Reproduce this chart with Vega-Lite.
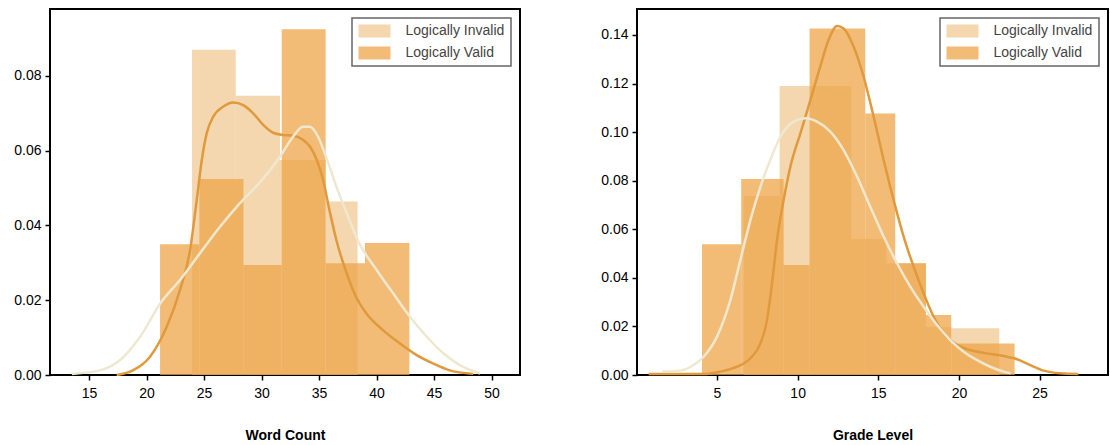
{
  "$schema": "https://vega.github.io/schema/vega-lite/v6.json",
  "padding": {"left": 12, "top": 8, "right": 0, "bottom": 0},
  "spacing": 78,
  "datasets": {
    "wc_bars": [
      {"series": "Logically Invalid", "x0": 23.95, "x1": 27.75, "density": 0.087},
      {"series": "Logically Invalid", "x0": 27.75, "x1": 31.6, "density": 0.0747},
      {"series": "Logically Invalid", "x0": 31.6, "x1": 35.57, "density": 0.0575},
      {"series": "Logically Invalid", "x0": 35.57, "x1": 38.35, "density": 0.0464},
      {"series": "Logically Valid", "x0": 21.17, "x1": 24.59, "density": 0.035},
      {"series": "Logically Valid", "x0": 24.59, "x1": 28.42, "density": 0.0524},
      {"series": "Logically Valid", "x0": 28.42, "x1": 31.75, "density": 0.0294},
      {"series": "Logically Valid", "x0": 31.75, "x1": 35.57, "density": 0.0925},
      {"series": "Logically Valid", "x0": 35.57, "x1": 38.99, "density": 0.0299},
      {"series": "Logically Valid", "x0": 38.99, "x1": 42.85, "density": 0.0353}
    ],
    "wc_kde": [
      {"curve": "dark", "x": 17.4, "density": 0.0},
      {"curve": "dark", "x": 18.85, "density": 0.0013},
      {"curve": "dark", "x": 20.3, "density": 0.0049},
      {"curve": "dark", "x": 21.75, "density": 0.0129},
      {"curve": "dark", "x": 22.9, "density": 0.0227},
      {"curve": "dark", "x": 23.78, "density": 0.0334},
      {"curve": "dark", "x": 24.36, "density": 0.0468},
      {"curve": "dark", "x": 24.8, "density": 0.0575},
      {"curve": "dark", "x": 25.23, "density": 0.0647},
      {"curve": "dark", "x": 25.8, "density": 0.0691},
      {"curve": "dark", "x": 26.67, "density": 0.0718},
      {"curve": "dark", "x": 27.54, "density": 0.0729},
      {"curve": "dark", "x": 28.4, "density": 0.0722},
      {"curve": "dark", "x": 29.27, "density": 0.07},
      {"curve": "dark", "x": 30.14, "density": 0.0669},
      {"curve": "dark", "x": 31.0, "density": 0.0648},
      {"curve": "dark", "x": 31.88, "density": 0.0642},
      {"curve": "dark", "x": 32.75, "density": 0.064},
      {"curve": "dark", "x": 33.6, "density": 0.0629},
      {"curve": "dark", "x": 34.2, "density": 0.0611},
      {"curve": "dark", "x": 34.8, "density": 0.0575},
      {"curve": "dark", "x": 35.35, "density": 0.0522},
      {"curve": "dark", "x": 35.9, "density": 0.0441},
      {"curve": "dark", "x": 36.5, "density": 0.0361},
      {"curve": "dark", "x": 37.4, "density": 0.0272},
      {"curve": "dark", "x": 38.2, "density": 0.021},
      {"curve": "dark", "x": 39.1, "density": 0.0165},
      {"curve": "dark", "x": 40.55, "density": 0.012},
      {"curve": "dark", "x": 42.0, "density": 0.0085},
      {"curve": "dark", "x": 43.45, "density": 0.0054},
      {"curve": "dark", "x": 44.9, "density": 0.0031},
      {"curve": "dark", "x": 46.3, "density": 0.0013},
      {"curve": "dark", "x": 48.4, "density": 0.0003},
      {"curve": "cream", "x": 13.5, "density": 0.0003},
      {"curve": "cream", "x": 16.0, "density": 0.0013},
      {"curve": "cream", "x": 17.7, "density": 0.004},
      {"curve": "cream", "x": 19.45, "density": 0.0103},
      {"curve": "cream", "x": 21.2, "density": 0.0192},
      {"curve": "cream", "x": 22.9, "density": 0.0254},
      {"curve": "cream", "x": 24.65, "density": 0.0326},
      {"curve": "cream", "x": 26.4, "density": 0.0397},
      {"curve": "cream", "x": 28.1, "density": 0.0459},
      {"curve": "cream", "x": 29.9, "density": 0.0517},
      {"curve": "cream", "x": 31.6, "density": 0.0584},
      {"curve": "cream", "x": 32.75, "density": 0.0638},
      {"curve": "cream", "x": 33.6, "density": 0.0664},
      {"curve": "cream", "x": 34.2, "density": 0.0664},
      {"curve": "cream", "x": 34.9, "density": 0.0638},
      {"curve": "cream", "x": 35.6, "density": 0.0584},
      {"curve": "cream", "x": 36.5, "density": 0.0504},
      {"curve": "cream", "x": 37.4, "density": 0.0433},
      {"curve": "cream", "x": 38.5, "density": 0.0352},
      {"curve": "cream", "x": 40.0, "density": 0.0281},
      {"curve": "cream", "x": 41.45, "density": 0.0218},
      {"curve": "cream", "x": 42.9, "density": 0.0156},
      {"curve": "cream", "x": 44.35, "density": 0.0103},
      {"curve": "cream", "x": 45.8, "density": 0.0058},
      {"curve": "cream", "x": 47.2, "density": 0.0027},
      {"curve": "cream", "x": 49.0, "density": 0.0004}
    ],
    "gl_bars": [
      {"series": "Logically Invalid", "x0": 6.65, "x1": 8.88, "density": 0.0737},
      {"series": "Logically Invalid", "x0": 8.88, "x1": 11.1, "density": 0.119},
      {"series": "Logically Invalid", "x0": 11.1, "x1": 13.33, "density": 0.119},
      {"series": "Logically Invalid", "x0": 13.33, "x1": 15.5, "density": 0.0561},
      {"series": "Logically Invalid", "x0": 15.5, "x1": 17.95, "density": 0.046},
      {"series": "Logically Invalid", "x0": 17.95, "x1": 19.52, "density": 0.0199},
      {"series": "Logically Invalid", "x0": 19.52, "x1": 22.5, "density": 0.0192},
      {"series": "Logically Valid", "x0": 4.07, "x1": 6.5, "density": 0.0538},
      {"series": "Logically Valid", "x0": 6.5, "x1": 9.13, "density": 0.0807},
      {"series": "Logically Valid", "x0": 9.13, "x1": 10.74, "density": 0.0453},
      {"series": "Logically Valid", "x0": 10.74, "x1": 14.19, "density": 0.1427},
      {"series": "Logically Valid", "x0": 14.19, "x1": 16.05, "density": 0.1077},
      {"series": "Logically Valid", "x0": 16.05, "x1": 17.95, "density": 0.046},
      {"series": "Logically Valid", "x0": 17.95, "x1": 19.52, "density": 0.0247},
      {"series": "Logically Valid", "x0": 19.52, "x1": 23.45, "density": 0.013}
    ],
    "gl_kde": [
      {"curve": "dark", "x": 0.76, "density": 0.0004},
      {"curve": "dark", "x": 4.17, "density": 0.0004},
      {"curve": "dark", "x": 5.2, "density": 0.0014},
      {"curve": "dark", "x": 6.24, "density": 0.0034},
      {"curve": "dark", "x": 7.07, "density": 0.0069},
      {"curve": "dark", "x": 7.69, "density": 0.013},
      {"curve": "dark", "x": 8.1, "density": 0.0226},
      {"curve": "dark", "x": 8.41, "density": 0.0377},
      {"curve": "dark", "x": 8.72, "density": 0.0556},
      {"curve": "dark", "x": 9.13, "density": 0.072},
      {"curve": "dark", "x": 9.55, "density": 0.0858},
      {"curve": "dark", "x": 10.17, "density": 0.0995},
      {"curve": "dark", "x": 10.79, "density": 0.1132},
      {"curve": "dark", "x": 11.4, "density": 0.127},
      {"curve": "dark", "x": 11.92, "density": 0.138},
      {"curve": "dark", "x": 12.44, "density": 0.1437},
      {"curve": "dark", "x": 12.85, "density": 0.1427},
      {"curve": "dark", "x": 13.47, "density": 0.1352},
      {"curve": "dark", "x": 14.09, "density": 0.1228},
      {"curve": "dark", "x": 14.71, "density": 0.1064},
      {"curve": "dark", "x": 15.33, "density": 0.0885},
      {"curve": "dark", "x": 15.95, "density": 0.072},
      {"curve": "dark", "x": 16.57, "density": 0.057},
      {"curve": "dark", "x": 17.19, "density": 0.0446},
      {"curve": "dark", "x": 17.81, "density": 0.0336},
      {"curve": "dark", "x": 18.43, "density": 0.024},
      {"curve": "dark", "x": 19.05, "density": 0.0172},
      {"curve": "dark", "x": 19.88, "density": 0.0124},
      {"curve": "dark", "x": 20.7, "density": 0.0103},
      {"curve": "dark", "x": 21.74, "density": 0.0089},
      {"curve": "dark", "x": 22.77, "density": 0.0078},
      {"curve": "dark", "x": 23.6, "density": 0.0065},
      {"curve": "dark", "x": 24.42, "density": 0.0041},
      {"curve": "dark", "x": 25.25, "density": 0.0018},
      {"curve": "dark", "x": 26.28, "density": 0.0007},
      {"curve": "dark", "x": 27.4, "density": 0.0004},
      {"curve": "cream", "x": 1.6, "density": 0.0014},
      {"curve": "cream", "x": 2.73, "density": 0.0018},
      {"curve": "cream", "x": 3.55, "density": 0.0041},
      {"curve": "cream", "x": 4.17, "density": 0.0075},
      {"curve": "cream", "x": 5.0, "density": 0.0158},
      {"curve": "cream", "x": 5.83, "density": 0.0309},
      {"curve": "cream", "x": 6.45, "density": 0.0474},
      {"curve": "cream", "x": 7.07, "density": 0.0638},
      {"curve": "cream", "x": 7.69, "density": 0.0775},
      {"curve": "cream", "x": 8.3, "density": 0.0885},
      {"curve": "cream", "x": 8.93, "density": 0.0981},
      {"curve": "cream", "x": 9.75, "density": 0.1043},
      {"curve": "cream", "x": 10.48, "density": 0.1057},
      {"curve": "cream", "x": 11.2, "density": 0.1043},
      {"curve": "cream", "x": 12.02, "density": 0.1002},
      {"curve": "cream", "x": 12.85, "density": 0.0926},
      {"curve": "cream", "x": 13.68, "density": 0.0817},
      {"curve": "cream", "x": 14.5, "density": 0.0693},
      {"curve": "cream", "x": 15.33, "density": 0.057},
      {"curve": "cream", "x": 16.16, "density": 0.046},
      {"curve": "cream", "x": 16.98, "density": 0.0364},
      {"curve": "cream", "x": 17.81, "density": 0.0281},
      {"curve": "cream", "x": 18.64, "density": 0.0206},
      {"curve": "cream", "x": 19.46, "density": 0.0144},
      {"curve": "cream", "x": 20.29, "density": 0.0096},
      {"curve": "cream", "x": 21.1, "density": 0.0062},
      {"curve": "cream", "x": 21.94, "density": 0.0034},
      {"curve": "cream", "x": 22.77, "density": 0.0014},
      {"curve": "cream", "x": 23.2, "density": 0.0007}
    ]
  },
  "hconcat": [
    {
      "width": 470,
      "height": 366,
      "layer": [
        {
          "data": {"name": "wc_bars"},
          "mark": {"type": "rect"},
          "encoding": {
            "x": {"field": "x0", "type": "quantitative", "scale": {"domain": [11.6, 52.47], "nice": false, "zero": false},
                  "axis": {"title": "Word Count", "values": [15, 20, 25, 30, 35, 40, 45, 50], "format": "d"}},
            "x2": {"field": "x1"},
            "y": {"field": "density", "type": "quantitative", "scale": {"domain": [0, 0.0979], "nice": false},
                  "axis": {"title": null, "values": [0, 0.02, 0.04, 0.06, 0.08], "format": ".2f"}},
            "y2": {"datum": 0},
            "color": {"field": "series", "type": "nominal",
                      "scale": {"domain": ["Logically Invalid", "Logically Valid"], "range": ["#EEC080", "#EDA548"]},
                      "legend": {"title": null, "orient": "top-right", "offset": 9}},
            "opacity": {"field": "series", "type": "nominal",
                        "scale": {"domain": ["Logically Invalid", "Logically Valid"], "range": [0.63, 0.74]},
                        "legend": null}
          }
        },
        {
          "data": {"name": "wc_kde"},
          "mark": {"type": "line", "interpolate": "monotone", "strokeWidth": 2.5},
          "encoding": {
            "x": {"field": "x", "type": "quantitative"},
            "y": {"field": "density", "type": "quantitative"},
            "stroke": {"field": "curve", "type": "nominal",
                       "scale": {"domain": ["dark", "cream"], "range": ["#E0993C", "#EFE8D0"]},
                       "legend": null}
          }
        }
      ]
    },
    {
      "width": 471,
      "height": 366,
      "layer": [
        {
          "data": {"name": "gl_bars"},
          "mark": {"type": "rect"},
          "encoding": {
            "x": {"field": "x0", "type": "quantitative", "scale": {"domain": [0.04, 29.24], "nice": false, "zero": false},
                  "axis": {"title": "Grade Level", "values": [5, 10, 15, 20, 25], "format": "d"}},
            "x2": {"field": "x1"},
            "y": {"field": "density", "type": "quantitative", "scale": {"domain": [0, 0.1507], "nice": false},
                  "axis": {"title": null, "values": [0, 0.02, 0.04, 0.06, 0.08, 0.1, 0.12, 0.14], "format": ".2f"}},
            "y2": {"datum": 0},
            "color": {"field": "series", "type": "nominal",
                      "scale": {"domain": ["Logically Invalid", "Logically Valid"], "range": ["#EEC080", "#EDA548"]},
                      "legend": {"title": null, "orient": "top-right", "offset": 9}},
            "opacity": {"field": "series", "type": "nominal",
                        "scale": {"domain": ["Logically Invalid", "Logically Valid"], "range": [0.63, 0.74]},
                        "legend": null}
          }
        },
        {
          "data": {"name": "gl_kde"},
          "mark": {"type": "line", "interpolate": "monotone", "strokeWidth": 2.5},
          "encoding": {
            "x": {"field": "x", "type": "quantitative"},
            "y": {"field": "density", "type": "quantitative"},
            "stroke": {"field": "curve", "type": "nominal",
                       "scale": {"domain": ["dark", "cream"], "range": ["#E0993C", "#EFE8D0"]},
                       "legend": null}
          }
        }
      ]
    }
  ],
  "resolve": {"scale": {"color": "independent", "opacity": "independent", "stroke": "independent"}},
  "config": {
    "font": "Liberation Sans",
    "view": {"stroke": "#000000", "strokeWidth": 2},
    "axis": {
      "grid": false,
      "domain": false,
      "tickColor": "#000000",
      "tickSize": 5,
      "tickWidth": 1.5,
      "labelColor": "#000000",
      "labelFont": "Liberation Sans",
      "labelFontSize": 14,
      "labelPadding": 4,
      "titleFont": "Liberation Sans",
      "titleFontSize": 14,
      "titleFontWeight": "bold",
      "titleColor": "#000000",
      "titlePadding": 28
    },
    "axisX": {"labelPadding": 6},
    "legend": {
      "symbolType": "M-2.46,-1H2.46V1H-2.46Z",
      "symbolSize": 169,
      "symbolOffset": 9.5,
      "symbolStrokeWidth": 0,
      "symbolOpacity": 1,
      "labelFont": "Liberation Sans",
      "labelFontSize": 14,
      "labelColor": "#444444",
      "labelOffset": 24,
      "labelExpr": "datum.label + '\u00a0\u00a0\u00a0\u00a0\u00a0'",
      "rowPadding": 8,
      "padding": 6,
      "strokeColor": "#666666",
      "strokeWidth": 1.5,
      "fillColor": "#ffffff"
    }
  }
}
